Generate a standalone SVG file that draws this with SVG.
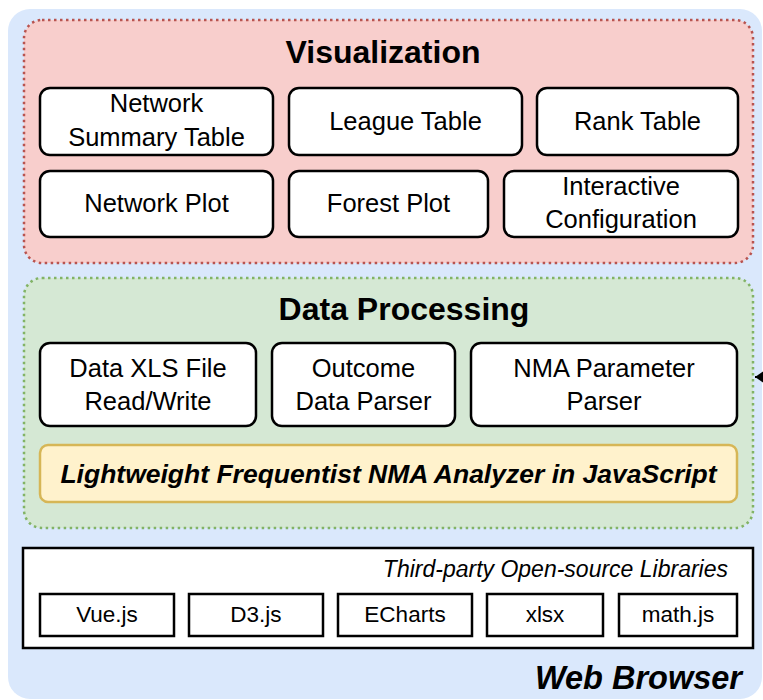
<svg xmlns="http://www.w3.org/2000/svg" width="763" height="700" viewBox="0 0 763 700">
<defs>
<style>
text{font-family:"Liberation Sans",Arial,Helvetica,sans-serif;fill:#000;text-anchor:middle}
.node{fill:#fff;stroke:#000;stroke-width:2.5}
.lib{fill:#fff;stroke:#000;stroke-width:2.5}
.t{font-size:25.5px}
.title{font-size:32px;font-weight:bold}
.lt{font-size:22.5px}
</style>
<marker id="ah" markerWidth="12" markerHeight="16" refX="11" refY="8" orient="auto" markerUnits="userSpaceOnUse">
<path d="M1,1 L11,8 L1,15 Z" fill="#000"/>
</marker>
</defs>
<rect x="0" y="0" width="763" height="700" fill="#fff"/>
<g id="web-browser">
<rect x="8" y="9" width="754" height="690" rx="22" fill="#dae8fc"/>
<text x="742" y="689" style="font-size:32.5px;font-weight:bold;font-style:italic;text-anchor:end">Web Browser</text>
</g>
<g id="visualization">
<rect x="24" y="20" width="729" height="243" rx="18" fill="#f8cecc" stroke="#b85450" stroke-width="2.5" stroke-dasharray="2.5 3.5"/>
<text class="title" x="383" y="63">Visualization</text>
</g>
<g id="network-summary-table">
<rect class="node" x="40" y="88" width="233" height="67" rx="10"/>
<text class="t" x="156.5" y="112">Network</text>
<text class="t" x="156.5" y="146">Summary Table</text>
</g>
<g id="league-table">
<rect class="node" x="289" y="88" width="233" height="67" rx="10"/>
<text class="t" x="405.5" y="130">League Table</text>
</g>
<g id="rank-table">
<rect class="node" x="537" y="88" width="201" height="67" rx="10"/>
<text class="t" x="637.5" y="130">Rank Table</text>
</g>
<g id="network-plot">
<rect class="node" x="40" y="171" width="233" height="66" rx="10"/>
<text class="t" x="156.5" y="212">Network Plot</text>
</g>
<g id="forest-plot">
<rect class="node" x="289" y="171" width="199" height="66" rx="10"/>
<text class="t" x="388.5" y="212">Forest Plot</text>
</g>
<g id="interactive-configuration">
<rect class="node" x="504" y="171" width="234" height="66" rx="10"/>
<text class="t" x="621" y="195">Interactive</text>
<text class="t" x="621" y="228">Configuration</text>
</g>
<g id="data-processing">
<rect x="24" y="278" width="729" height="250" rx="18" fill="#d5e8d4" stroke="#82b366" stroke-width="2.5" stroke-dasharray="2.5 3.5"/>
<text class="title" x="404" y="320">Data Processing</text>
</g>
<g id="data-xls">
<rect class="node" x="40" y="343" width="216" height="83" rx="10"/>
<text class="t" x="148" y="377">Data XLS File</text>
<text class="t" x="148" y="410">Read/Write</text>
</g>
<g id="outcome-parser">
<rect class="node" x="272" y="343" width="183" height="83" rx="10"/>
<text class="t" x="363.5" y="377">Outcome</text>
<text class="t" x="363.5" y="410">Data Parser</text>
</g>
<g id="nma-parameter-parser">
<rect class="node" x="471" y="343" width="266" height="83" rx="10"/>
<text class="t" x="604" y="377">NMA Parameter</text>
<text class="t" x="604" y="410">Parser</text>
</g>
<g id="nma-analyzer">
<rect x="40" y="445" width="697" height="57" rx="8" fill="#fff2cc" stroke="#d6b656" stroke-width="2.5"/>
<text x="388.5" y="483" style="font-size:26.5px;font-weight:bold;font-style:italic">Lightweight Frequentist NMA Analyzer in JavaScript</text>
</g>
<g id="third-party">
<rect x="23" y="548" width="730" height="100" fill="#fff" stroke="#000" stroke-width="2.5"/>
<text x="728" y="577" style="font-size:23px;font-style:italic;text-anchor:end">Third-party Open-source Libraries</text>
</g>
<g id="vue">
<rect class="lib" x="40" y="594" width="134" height="42"/>
<text class="lt" x="107" y="622">Vue.js</text>
</g>
<g id="d3">
<rect class="lib" x="189" y="594" width="134" height="42"/>
<text class="lt" x="256" y="622">D3.js</text>
</g>
<g id="echarts">
<rect class="lib" x="338" y="594" width="134" height="42"/>
<text class="lt" x="405" y="622">ECharts</text>
</g>
<g id="xlsx">
<rect class="lib" x="487" y="594" width="116" height="42"/>
<text class="lt" x="545" y="622">xlsx</text>
</g>
<g id="mathjs">
<rect class="lib" x="619" y="594" width="118" height="42"/>
<text class="lt" x="678" y="622">math.js</text>
</g>
<g id="connectors">
<line x1="775" y1="377" x2="755" y2="377" stroke="#000" stroke-width="2" marker-end="url(#ah)"/>
</g>
</svg>
